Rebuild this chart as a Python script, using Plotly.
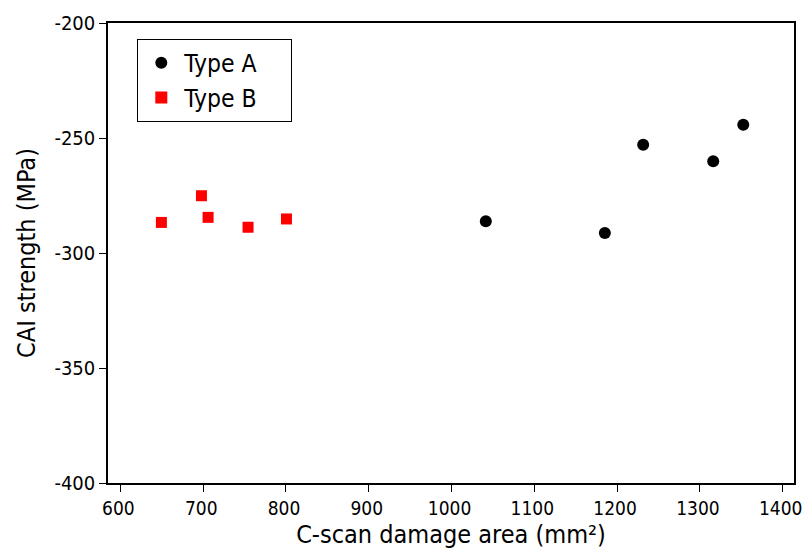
import plotly.graph_objects as go

type_a_x = [1041.4, 1185.2, 1231.5, 1316.1, 1352.4]
type_a_y = [-286.2, -291.3, -252.9, -260.1, -244.2]
type_b_x = [649.5, 697.9, 705.9, 754.2, 800.6]
type_b_y = [-286.7, -275.1, -284.5, -288.8, -285.2]

x_ticks = [600, 700, 800, 900, 1000, 1100, 1200, 1300, 1400]
y_ticks = [-400, -350, -300, -250, -200]
y_tick_text = ["-400", "-350", "-300", "-250", "-200"]

FONT = "DejaVu Sans Condensed, DejaVu Sans, sans-serif"
PAD = "\u00a0" * 4

fig = go.Figure()
fig.add_trace(go.Scatter(x=type_a_x, y=type_a_y, mode="markers", name="Type A" + PAD,
                         marker=dict(symbol="circle", size=12, color="black")))
fig.add_trace(go.Scatter(x=type_b_x, y=type_b_y, mode="markers", name="Type B" + PAD,
                         marker=dict(symbol="square", size=11, color="#ff0000")))

axis_common = dict(showgrid=False, zeroline=False, showline=True, linecolor="black",
                   linewidth=1.5, mirror=True, ticks="outside", ticklen=7,
                   tickcolor="black", tickwidth=1.3, ticklabeloverflow="allow",
                   automargin=False)

fig.update_xaxes(range=[585, 1413.7], tickvals=x_ticks, ticklabelshift=-2,
                 tickfont=dict(family=FONT, size=19, color="black"),
                 title=dict(text="C-scan damage area (mm²)", font=dict(family=FONT, size=25, color="black"), standoff=8),
                 **axis_common)
fig.update_yaxes(range=[-400, -200], tickvals=y_ticks, ticktext=y_tick_text,
                 tickfont=dict(family=FONT, size=20, color="black"),
                 title=dict(text="CAI strength (MPa)", font=dict(family=FONT, size=25, color="black"), standoff=12),
                 **axis_common)

fig.update_layout(
    width=803, height=551,
    margin=dict(l=108, r=9, t=23, b=68, autoexpand=False),
    paper_bgcolor="white", plot_bgcolor="white",
    font=dict(family=FONT, color="black"),
    showlegend=True,
    legend=dict(x=(137 - 108) / 686, y=(483 - 39) / 460, xanchor="left", yanchor="top",
                bordercolor="black", borderwidth=1.3, bgcolor="white",
                font=dict(family=FONT, size=24.5, color="black"),
                itemsizing="constant", itemwidth=36),
)

fig.write_html("out.html")
